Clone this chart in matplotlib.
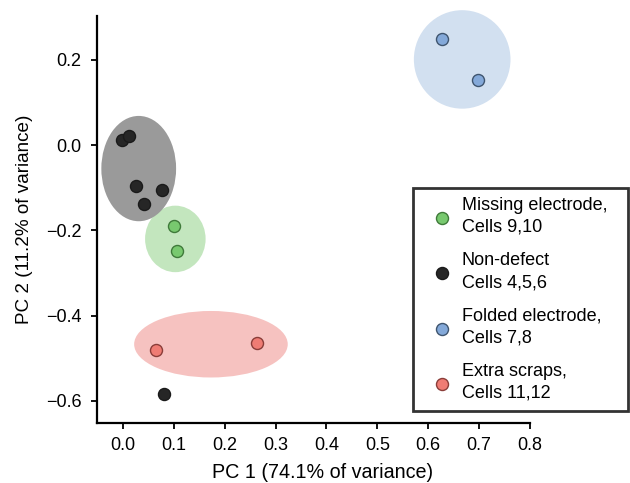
import matplotlib.pyplot as plt
from matplotlib.patches import Ellipse

plt.rcParams['font.family'] = ['Liberation Sans', 'DejaVu Sans']
plt.rcParams['font.size'] = 12

# PCA scores
groups = ["Missing electrode,\nCells 9,10", "Non-defect\nCells 4,5,6",
          "Folded electrode,\nCells 7,8", "Extra scraps,\nCells 11,12"]
pc1 = [
    [0.100, 0.106],
    [-0.001, 0.012, 0.026, 0.077, 0.041, 0.081],
    [0.628, 0.699],
    [0.064, 0.263],
]
pc2 = [
    [-0.189, -0.249],
    [0.013, 0.021, -0.096, -0.105, -0.138, -0.583],
    [0.250, 0.152],
    [-0.480, -0.465],
]
point_colors = ["#78c96f", "#262626", "#84a9d9", "#ef7c74"]
edge_colors = ["#3f7a3a", "#1a1a1a", "#3f556f", "#8a3d39"]
fill_colors = ["#c3e6be", "#9a9a9a", "#d2e0f0", "#f6c2c0"]

# cluster ellipses: centre x, centre y, width, height
ell_x = [0.103, 0.031, 0.667, 0.173]
ell_y = [-0.220, -0.055, 0.201, -0.467]
ell_w = [0.119, 0.147, 0.190, 0.302]
ell_h = [0.156, 0.247, 0.231, 0.156]

x_ticks = [0.0, 0.1, 0.2, 0.3, 0.4, 0.5, 0.6, 0.7, 0.8]
y_ticks = [-0.6, -0.4, -0.2, 0.0, 0.2]


def fmt(v, pos=None):
    return ("%.1f" % v).replace("-", "\u2212")


fig = plt.figure(figsize=(6.3, 4.83), dpi=100)
ax = fig.add_axes([0.154, 0.124, 0.687, 0.843])

for i in range(len(groups)):
    e = Ellipse((ell_x[i], ell_y[i]), ell_w[i], ell_h[i],
                facecolor=fill_colors[i], edgecolor="none", zorder=1, clip_on=False)
    ax.add_patch(e)

for i in range(len(groups)):
    ax.scatter(pc1[i], pc2[i], s=75, color=point_colors[i],
               edgecolors=edge_colors[i], linewidths=1, zorder=3,
               label=groups[i])

ax.set_xlim(-0.051, 0.8)
ax.set_ylim(-0.652, 0.303)
ax.set_xticks(x_ticks)
ax.set_yticks(y_ticks)
ax.xaxis.set_major_formatter(plt.FuncFormatter(fmt))
ax.yaxis.set_major_formatter(plt.FuncFormatter(fmt))

for side in ["top", "right"]:
    ax.spines[side].set_visible(False)
for side in ["left", "bottom"]:
    ax.spines[side].set_linewidth(1.6)
ax.tick_params(width=1.3, length=4.5, direction="out", labelsize=13)
ax.tick_params(axis="x", pad=5.5)
ax.tick_params(axis="y", pad=6.5)

ax.set_xlabel("PC 1 (74.1% of variance)", fontsize=14.2)
ax.set_ylabel("PC 2 (11.2% of variance)", fontsize=13.6)
ax.xaxis.set_label_coords(0.521, -0.098)
ax.yaxis.set_label_coords(-0.148, 0.50)

leg = ax.legend(loc="upper left",
                bbox_to_anchor=(413 / 630, 1 - 188 / 483, (628 - 413) / 630, 0),
                bbox_transform=fig.transFigure, mode="expand",
                frameon=True, fancybox=False, fontsize=13,
                handlelength=2.2, handletextpad=0.0, borderpad=0.5,
                borderaxespad=0, labelspacing=0.9, markerscale=1.0)
for t in leg.get_texts():
    t.set_linespacing(1.38)
leg.get_frame().set_edgecolor("black")
leg.get_frame().set_linewidth(2)

fig.savefig("out.png", dpi=100)
